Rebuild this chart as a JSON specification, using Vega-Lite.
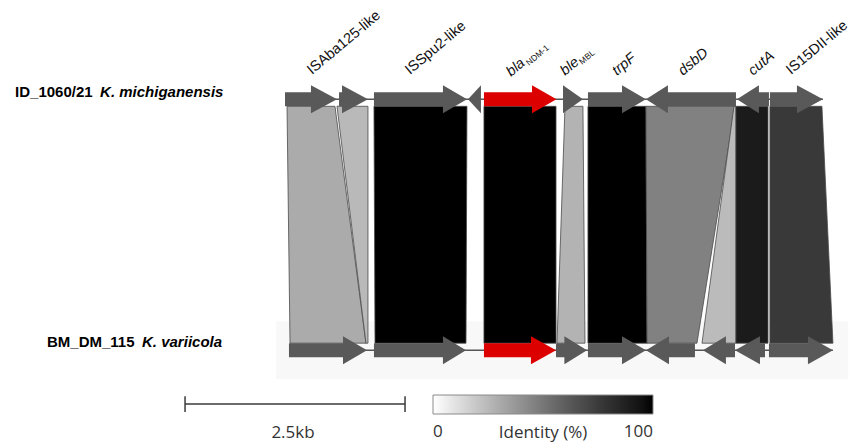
{
  "$schema": "https://vega.github.io/schema/vega-lite/v6.json",
  "width": 850,
  "height": 442,
  "padding": 0,
  "autosize": {"type": "fit", "contains": "padding"},
  "background": "white",
  "config": {"view": {"stroke": null}},
  "datasets": {
    "band": [{"x": -100, "x2": 6400, "y": -1.15, "y2": 1.15}],
    "tracks": [
      {"genome": "ID_1060/21", "start": 0, "end": 6114, "y": 10},
      {"genome": "BM_DM_115", "start": 45, "end": 6227, "y": 0}
    ],
    "comps": [
      {"id": "c1", "identity": 30, "y": 9.72, "xl": 23, "xr": 568},
      {"id": "c1", "identity": 30, "y": 0.28, "xl": 57, "xr": 920},
      {"id": "c2", "identity": 25, "y": 9.72, "xl": 591, "xr": 943},
      {"id": "c2", "identity": 25, "y": 0.28, "xl": 920, "xr": 943},
      {"id": "c3", "identity": 100, "y": 9.72, "xl": 1011, "xr": 2068},
      {"id": "c3", "identity": 100, "y": 0.28, "xl": 1023, "xr": 2057},
      {"id": "c4", "identity": 100, "y": 9.72, "xl": 2261, "xr": 3080},
      {"id": "c4", "identity": 100, "y": 0.28, "xl": 2261, "xr": 3080},
      {"id": "c5", "identity": 27, "y": 9.72, "xl": 3182, "xr": 3386},
      {"id": "c5", "identity": 27, "y": 0.28, "xl": 3091, "xr": 3409},
      {"id": "c6", "identity": 100, "y": 9.72, "xl": 3443, "xr": 4102},
      {"id": "c6", "identity": 100, "y": 0.28, "xl": 3443, "xr": 4114},
      {"id": "c7", "identity": 46, "y": 9.72, "xl": 4102, "xr": 5114},
      {"id": "c7", "identity": 46, "y": 0.28, "xl": 4114, "xr": 4682},
      {"id": "c8", "identity": 24, "y": 9.72, "xl": 5102, "xr": 5125},
      {"id": "c8", "identity": 24, "y": 0.28, "xl": 4739, "xr": 5125},
      {"id": "c9", "identity": 90, "y": 9.72, "xl": 5125, "xr": 5489},
      {"id": "c9", "identity": 90, "y": 0.28, "xl": 5125, "xr": 5489},
      {"id": "c10", "identity": 76, "y": 9.72, "xl": 5511, "xr": 6102},
      {"id": "c10", "identity": 76, "y": 0.28, "xl": 5511, "xr": 6227}
    ],
    "arrows": [
      {"gene": "T1", "kind": "other", "x": 0, "lo": 9.72, "hi": 10.28},
      {"gene": "T1", "kind": "other", "x": 295, "lo": 9.72, "hi": 10.28},
      {"gene": "T1", "kind": "other", "x": 295, "lo": 9.44, "hi": 10.56},
      {"gene": "T1", "kind": "other", "x": 591, "lo": 10, "hi": 10},
      {"gene": "T2", "kind": "other", "x": 614, "lo": 9.72, "hi": 10.28},
      {"gene": "T2", "kind": "other", "x": 648, "lo": 9.72, "hi": 10.28},
      {"gene": "T2", "kind": "other", "x": 648, "lo": 9.44, "hi": 10.56},
      {"gene": "T2", "kind": "other", "x": 943, "lo": 10, "hi": 10},
      {"gene": "T3", "kind": "other", "x": 1011, "lo": 9.72, "hi": 10.28},
      {"gene": "T3", "kind": "other", "x": 1795, "lo": 9.72, "hi": 10.28},
      {"gene": "T3", "kind": "other", "x": 1795, "lo": 9.44, "hi": 10.56},
      {"gene": "T3", "kind": "other", "x": 2068, "lo": 10, "hi": 10},
      {"gene": "T4", "kind": "other", "x": 2080, "lo": 10, "hi": 10},
      {"gene": "T4", "kind": "other", "x": 2227, "lo": 9.44, "hi": 10.56},
      {"gene": "blaT", "kind": "bla", "x": 2261, "lo": 9.72, "hi": 10.28},
      {"gene": "blaT", "kind": "bla", "x": 2807, "lo": 9.72, "hi": 10.28},
      {"gene": "blaT", "kind": "bla", "x": 2807, "lo": 9.44, "hi": 10.56},
      {"gene": "blaT", "kind": "bla", "x": 3085, "lo": 10, "hi": 10},
      {"gene": "T6", "kind": "other", "x": 3159, "lo": 9.44, "hi": 10.56},
      {"gene": "T6", "kind": "other", "x": 3386, "lo": 10, "hi": 10},
      {"gene": "T7", "kind": "other", "x": 3443, "lo": 9.72, "hi": 10.28},
      {"gene": "T7", "kind": "other", "x": 3830, "lo": 9.72, "hi": 10.28},
      {"gene": "T7", "kind": "other", "x": 3830, "lo": 9.44, "hi": 10.56},
      {"gene": "T7", "kind": "other", "x": 4102, "lo": 10, "hi": 10},
      {"gene": "T8", "kind": "other", "x": 4102, "lo": 10, "hi": 10},
      {"gene": "T8", "kind": "other", "x": 4352, "lo": 9.44, "hi": 10.56},
      {"gene": "T8", "kind": "other", "x": 4352, "lo": 9.72, "hi": 10.28},
      {"gene": "T8", "kind": "other", "x": 5125, "lo": 9.72, "hi": 10.28},
      {"gene": "T9", "kind": "other", "x": 5136, "lo": 10, "hi": 10},
      {"gene": "T9", "kind": "other", "x": 5386, "lo": 9.44, "hi": 10.56},
      {"gene": "T9", "kind": "other", "x": 5386, "lo": 9.72, "hi": 10.28},
      {"gene": "T9", "kind": "other", "x": 5500, "lo": 9.72, "hi": 10.28},
      {"gene": "T10", "kind": "other", "x": 5511, "lo": 9.72, "hi": 10.28},
      {"gene": "T10", "kind": "other", "x": 5818, "lo": 9.72, "hi": 10.28},
      {"gene": "T10", "kind": "other", "x": 5818, "lo": 9.44, "hi": 10.56},
      {"gene": "T10", "kind": "other", "x": 6114, "lo": 10, "hi": 10},
      {"gene": "B1", "kind": "other", "x": 45, "lo": -0.28, "hi": 0.28},
      {"gene": "B1", "kind": "other", "x": 659, "lo": -0.28, "hi": 0.28},
      {"gene": "B1", "kind": "other", "x": 659, "lo": -0.56, "hi": 0.56},
      {"gene": "B1", "kind": "other", "x": 932, "lo": 0, "hi": 0},
      {"gene": "B2", "kind": "other", "x": 1011, "lo": -0.28, "hi": 0.28},
      {"gene": "B2", "kind": "other", "x": 1795, "lo": -0.28, "hi": 0.28},
      {"gene": "B2", "kind": "other", "x": 1795, "lo": -0.56, "hi": 0.56},
      {"gene": "B2", "kind": "other", "x": 2057, "lo": 0, "hi": 0},
      {"gene": "blaB", "kind": "bla", "x": 2261, "lo": -0.28, "hi": 0.28},
      {"gene": "blaB", "kind": "bla", "x": 2795, "lo": -0.28, "hi": 0.28},
      {"gene": "blaB", "kind": "bla", "x": 2795, "lo": -0.56, "hi": 0.56},
      {"gene": "blaB", "kind": "bla", "x": 3080, "lo": 0, "hi": 0},
      {"gene": "B4", "kind": "other", "x": 3080, "lo": -0.28, "hi": 0.28},
      {"gene": "B4", "kind": "other", "x": 3175, "lo": -0.28, "hi": 0.28},
      {"gene": "B4", "kind": "other", "x": 3175, "lo": -0.56, "hi": 0.56},
      {"gene": "B4", "kind": "other", "x": 3432, "lo": 0, "hi": 0},
      {"gene": "B5", "kind": "other", "x": 3443, "lo": -0.28, "hi": 0.28},
      {"gene": "B5", "kind": "other", "x": 3830, "lo": -0.28, "hi": 0.28},
      {"gene": "B5", "kind": "other", "x": 3830, "lo": -0.56, "hi": 0.56},
      {"gene": "B5", "kind": "other", "x": 4102, "lo": 0, "hi": 0},
      {"gene": "B6", "kind": "other", "x": 4102, "lo": 0, "hi": 0},
      {"gene": "B6", "kind": "other", "x": 4364, "lo": -0.56, "hi": 0.56},
      {"gene": "B6", "kind": "other", "x": 4364, "lo": -0.28, "hi": 0.28},
      {"gene": "B6", "kind": "other", "x": 4659, "lo": -0.28, "hi": 0.28},
      {"gene": "B7", "kind": "other", "x": 4750, "lo": 0, "hi": 0},
      {"gene": "B7", "kind": "other", "x": 5011, "lo": -0.56, "hi": 0.56},
      {"gene": "B7", "kind": "other", "x": 5011, "lo": -0.28, "hi": 0.28},
      {"gene": "B7", "kind": "other", "x": 5114, "lo": -0.28, "hi": 0.28},
      {"gene": "B8", "kind": "other", "x": 5114, "lo": 0, "hi": 0},
      {"gene": "B8", "kind": "other", "x": 5398, "lo": -0.56, "hi": 0.56},
      {"gene": "B8", "kind": "other", "x": 5398, "lo": -0.28, "hi": 0.28},
      {"gene": "B8", "kind": "other", "x": 5455, "lo": -0.28, "hi": 0.28},
      {"gene": "B9", "kind": "other", "x": 5500, "lo": -0.28, "hi": 0.28},
      {"gene": "B9", "kind": "other", "x": 5943, "lo": -0.28, "hi": 0.28},
      {"gene": "B9", "kind": "other", "x": 5943, "lo": -0.56, "hi": 0.56},
      {"gene": "B9", "kind": "other", "x": 6227, "lo": 0, "hi": 0}
    ],
    "geneLabels": [
      {"text": "ISAba125-like", "x": 307, "y": 10.97, "style": "normal"},
      {"text": "ISSpu2-like", "x": 1420, "y": 10.97, "style": "normal"},
      {"text": "bla", "x": 2568, "y": 10.89, "style": "italic"},
      {"text": "ble", "x": 3182, "y": 10.93, "style": "italic"},
      {"text": "trpF", "x": 3773, "y": 10.93, "style": "italic"},
      {"text": "dsbD", "x": 4523, "y": 10.93, "style": "italic"},
      {"text": "cutA", "x": 5318, "y": 10.93, "style": "italic"},
      {"text": "IS15DII-like", "x": 5750, "y": 10.97, "style": "normal"}
    ],
    "subLabels": [
      {"text": "NDM-1", "x": 2773, "y": 11.33},
      {"text": "MBL", "x": 3375, "y": 11.37}
    ],
    "genomeLabels": [
      {"text": "ID_1060/21", "x": -3068, "y": 10.1, "style": "normal"},
      {"text": "K. michiganensis", "x": -2102, "y": 10.1, "style": "italic"},
      {"text": "BM_DM_115", "x": -2705, "y": 0.14, "style": "normal"},
      {"text": "K. variicola", "x": -1625, "y": 0.14, "style": "italic"}
    ],
    "scaleBar": [{"x": -1136, "x2": 1364, "y": -2.147}],
    "scaleTicks": [
      {"x": -1136, "y": -1.83, "y2": -2.465},
      {"x": 1364, "y": -1.83, "y2": -2.465}
    ],
    "footer": [
      {"text": "2.5kb", "x": 91, "y": -3.5},
      {"text": "Identity (%)", "x": 2932, "y": -3.5}
    ]
  },
  "layer": [
    {
      "data": {"name": "band"},
      "mark": {"type": "rect", "color": "#f8f8f8"},
      "encoding": {
        "x": {"field": "x", "type": "quantitative", "scale": {"domain": [-3239, 6421], "nice": false, "zero": false}, "axis": null},
        "x2": {"field": "x2"},
        "y": {"field": "y", "type": "quantitative", "scale": {"domain": [-3.618, 13.956], "nice": false, "zero": false}, "axis": null},
        "y2": {"field": "y2"}
      }
    },
    {
      "data": {"name": "tracks"},
      "mark": {"type": "rule", "color": "#555555", "strokeWidth": 1.5},
      "encoding": {
        "x": {"field": "start", "type": "quantitative", "axis": null},
        "x2": {"field": "end"},
        "y": {"field": "y", "type": "quantitative", "axis": null}
      }
    },
    {
      "data": {"name": "comps"},
      "mark": {"type": "area", "stroke": "#4a4a4a", "strokeWidth": 0.8, "opacity": 1, "fillOpacity": 1},
      "encoding": {
        "y": {"field": "y", "type": "quantitative", "axis": null},
        "x": {"field": "xl", "type": "quantitative", "axis": null},
        "x2": {"field": "xr"},
        "detail": {"field": "id"},
        "color": {
          "field": "identity",
          "type": "quantitative",
          "scale": {"domain": [0, 100], "range": ["#ffffff", "#000000"]},
          "legend": {
            "orient": "none",
            "legendX": 433,
            "legendY": 395,
            "direction": "horizontal",
            "title": null,
            "padding": 0,
            "gradientLength": 220,
            "gradientThickness": 19,
            "gradientStrokeColor": "#8a8a8a",
            "gradientStrokeWidth": 1,
            "values": [0, 100],
            "labelFont": "Open Sans",
            "labelFontSize": 17,
            "labelColor": "#333333",
            "labelOffset": 10
          }
        }
      }
    },
    {
      "data": {"name": "arrows"},
      "transform": [{"filter": "datum.kind === 'other'"}],
      "mark": {"type": "area", "color": "#595959", "opacity": 1, "orient": "vertical"},
      "encoding": {
        "x": {"field": "x", "type": "quantitative", "axis": null},
        "y": {"field": "lo", "type": "quantitative", "axis": null},
        "y2": {"field": "hi"},
        "detail": {"field": "gene"}
      }
    },
    {
      "data": {"name": "arrows"},
      "transform": [{"filter": "datum.kind === 'bla'"}],
      "mark": {"type": "area", "color": "#dd0000", "opacity": 1, "orient": "vertical"},
      "encoding": {
        "x": {"field": "x", "type": "quantitative", "axis": null},
        "y": {"field": "lo", "type": "quantitative", "axis": null},
        "y2": {"field": "hi"},
        "detail": {"field": "gene"}
      }
    },
    {
      "data": {"name": "geneLabels"},
      "transform": [{"filter": "datum.style === 'normal'"}],
      "mark": {"type": "text", "font": "Liberation Sans", "fontSize": 14.5, "angle": -40, "align": "left", "baseline": "alphabetic", "color": "#111111"},
      "encoding": {
        "x": {"field": "x", "type": "quantitative", "axis": null},
        "y": {"field": "y", "type": "quantitative", "axis": null},
        "text": {"field": "text"}
      }
    },
    {
      "data": {"name": "geneLabels"},
      "transform": [{"filter": "datum.style === 'italic'"}],
      "mark": {"type": "text", "font": "Liberation Sans", "fontSize": 14.5, "fontStyle": "italic", "angle": -40, "align": "left", "baseline": "alphabetic", "color": "#111111"},
      "encoding": {
        "x": {"field": "x", "type": "quantitative", "axis": null},
        "y": {"field": "y", "type": "quantitative", "axis": null},
        "text": {"field": "text"}
      }
    },
    {
      "data": {"name": "subLabels"},
      "mark": {"type": "text", "font": "Liberation Sans", "fontSize": 8.5, "angle": -40, "align": "left", "baseline": "alphabetic", "color": "#111111"},
      "encoding": {
        "x": {"field": "x", "type": "quantitative", "axis": null},
        "y": {"field": "y", "type": "quantitative", "axis": null},
        "text": {"field": "text"}
      }
    },
    {
      "data": {"name": "genomeLabels"},
      "transform": [{"filter": "datum.style === 'normal'"}],
      "mark": {"type": "text", "font": "Liberation Sans", "fontSize": 15, "fontWeight": "bold", "align": "left", "baseline": "alphabetic", "color": "#000000"},
      "encoding": {
        "x": {"field": "x", "type": "quantitative", "axis": null},
        "y": {"field": "y", "type": "quantitative", "axis": null},
        "text": {"field": "text"}
      }
    },
    {
      "data": {"name": "genomeLabels"},
      "transform": [{"filter": "datum.style === 'italic'"}],
      "mark": {"type": "text", "font": "Liberation Sans", "fontSize": 15, "fontWeight": "bold", "fontStyle": "italic", "align": "left", "baseline": "alphabetic", "color": "#000000"},
      "encoding": {
        "x": {"field": "x", "type": "quantitative", "axis": null},
        "y": {"field": "y", "type": "quantitative", "axis": null},
        "text": {"field": "text"}
      }
    },
    {
      "data": {"name": "scaleBar"},
      "mark": {"type": "rule", "color": "#3a3a3a", "strokeWidth": 1.5},
      "encoding": {
        "x": {"field": "x", "type": "quantitative", "axis": null},
        "x2": {"field": "x2"},
        "y": {"field": "y", "type": "quantitative", "axis": null}
      }
    },
    {
      "data": {"name": "scaleTicks"},
      "mark": {"type": "rule", "color": "#3a3a3a", "strokeWidth": 1.5},
      "encoding": {
        "x": {"field": "x", "type": "quantitative", "axis": null},
        "y": {"field": "y", "type": "quantitative", "axis": null},
        "y2": {"field": "y2"}
      }
    },
    {
      "data": {"name": "footer"},
      "mark": {"type": "text", "font": "Open Sans", "fontSize": 17, "align": "center", "baseline": "alphabetic", "color": "#333333"},
      "encoding": {
        "x": {"field": "x", "type": "quantitative", "axis": null},
        "y": {"field": "y", "type": "quantitative", "axis": null},
        "text": {"field": "text"}
      }
    }
  ]
}
